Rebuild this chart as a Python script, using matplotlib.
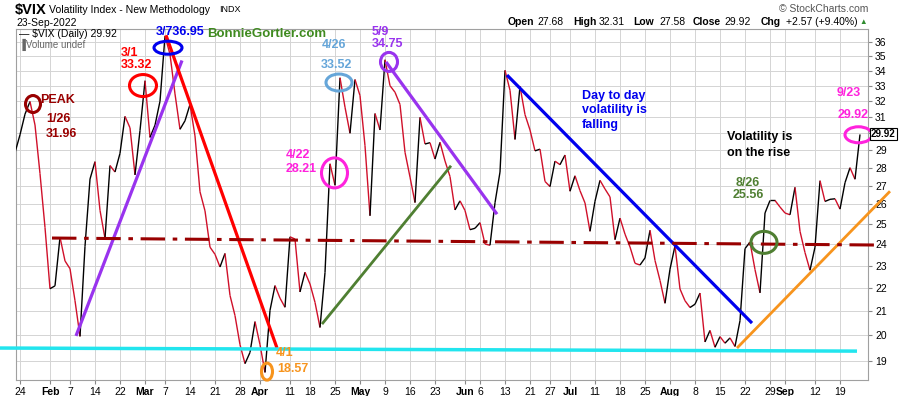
import numpy as np
import pandas as pd
import matplotlib
matplotlib.use("Agg")
import matplotlib.pyplot as plt
from matplotlib.collections import LineCollection
from matplotlib.patches import Ellipse
from matplotlib.transforms import ScaledTranslation

plt.rcParams['font.family'] = ['Liberation Sans', 'DejaVu Sans']

# daily closes, 21-Jan-2022 .. 23-Sep-2022
holidays = ['2022-02-21', '2022-04-15', '2022-05-30', '2022-06-20', '2022-07-04', '2022-09-05']
closes = [
    28.85, 29.90, 31.16, 31.96, 30.49, 27.66, 24.83,                      # Jan
    21.96, 22.09, 24.35, 23.22, 22.86, 21.44, 19.96, 23.91, 27.36, 28.33,
    25.70, 24.29, 28.11, 27.75, 28.81, 31.02, 30.32, 27.59, 30.15,        # Feb
    33.32, 29.74, 30.48, 31.98, 36.45, 35.13, 32.45, 30.23, 30.75, 31.77,
    29.83, 26.67, 25.67, 23.87, 23.53, 22.94, 23.57, 21.67, 20.81, 19.63,
    18.90, 19.33, 20.56,                                                  # Mar
    19.63, 18.57, 21.03, 22.10, 21.55, 21.16, 24.37, 24.26, 21.82, 22.70,
    22.17, 21.37, 20.32, 22.68, 28.21, 27.02, 33.52, 31.60, 29.99, 33.40,  # Apr
    32.34, 29.25, 25.42, 31.20, 30.19, 34.75, 32.99, 32.56, 31.77, 28.87,
    27.47, 26.10, 30.96, 29.35, 29.43, 28.48, 29.45, 28.37, 27.50, 25.72,
    26.19,                                                                # May
    25.69, 24.72, 24.79, 25.07, 24.02, 23.96, 26.09, 27.75, 34.02, 32.69,
    29.62, 32.95, 31.13, 30.19, 28.95, 29.05, 27.23, 26.95, 28.36, 28.16,
    28.71,                                                                # Jun
    26.70, 27.54, 26.73, 26.08, 24.64, 26.17, 27.29, 26.82, 26.40, 24.23,
    25.30, 24.50, 23.88, 23.11, 23.03, 23.36, 24.69, 23.24, 22.33, 21.33,  # Jul
    22.84, 23.93, 21.95, 21.44, 21.15, 21.29, 21.77, 19.74, 20.20, 19.53,
    19.95, 19.69, 19.90, 19.56, 20.60, 23.80, 24.11, 22.82, 21.78, 25.56,
    26.21, 26.21, 25.87,                                                  # Aug
    25.56, 25.47, 26.91, 24.64, 23.61, 22.79, 23.87, 27.27, 26.16, 26.27,
    26.30, 25.76, 27.16, 27.99, 27.35, 29.92,                             # Sep
]

tick_dates = ['2022-01-24', '2022-02-01', '2022-02-07', '2022-02-14', '2022-02-22',
              '2022-03-01', '2022-03-07', '2022-03-14', '2022-03-21', '2022-03-28',
              '2022-04-01', '2022-04-11', '2022-04-18', '2022-04-25', '2022-05-02',
              '2022-05-09', '2022-05-16', '2022-05-23', '2022-06-01', '2022-06-06',
              '2022-06-13', '2022-06-21', '2022-06-27', '2022-07-01', '2022-07-11',
              '2022-07-18', '2022-07-25', '2022-08-01', '2022-08-08', '2022-08-15',
              '2022-08-22', '2022-08-29', '2022-09-01', '2022-09-12', '2022-09-19']
tick_labels = ['24', 'Feb', '7', '14', '22', 'Mar', '7', '14', '21', '28', 'Apr', '11',
               '18', '25', 'May', '9', '16', '23', 'Jun', '6', '13', '21', '27', 'Jul',
               '11', '18', '25', 'Aug', '8', '15', '22', '29', 'Sep', '12', '19']
month_labels = ['Feb', 'Mar', 'Apr', 'May', 'Jun', 'Jul', 'Aug', 'Sep']
price_ticks = list(range(19, 37))
last_close = '29.92'

# hand drawn trend lines: (bar index, value) pairs
trend_lines = {
    'purple1': ([12.2, 33.4], [19.98, 34.7], '#9933ee', 2.3),
    'red': ([30.2, 52.4], [36.5, 19.5], '#ff0000', 2.3),
    'green': ([61.4, 87.2], [20.46, 28.1], '#4f7f32', 2.0),
    'purple2': ([74.2, 96.4], [34.6, 25.5], '#9933ee', 2.3),
    'blue': ([98.4, 147.4], [33.7, 20.5], '#0000ee', 2.3),
    'orange': ([144.4, 175.0], [19.5, 26.7], '#f7941d', 2.0),
    'cyan': ([-3.0, 168.4], [19.5, 19.38], '#22e5ee', 2.5),
}
support = ([7.4, 173.0], [24.31, 23.97])

# circles: (bar index, value, width px, height px, colour)
circles = [
    (3.6, 31.8, 15, 17, '#990000'),
    (25.6, 33.0, 27, 22, '#ff0000'),
    (30.6, 35.6, 28, 13, '#0000ee'),
    (64.8, 33.2, 26, 17, '#66a6d9'),
    (74.8, 34.6, 17, 19, '#9933ee'),
    (63.9, 27.7, 26, 30, '#ff22dd'),
    (50.4, 18.6, 11, 17, '#f7941d'),
    (149.8, 24.1, 26, 22, '#4f7f32'),
    (168.7, 29.9, 27, 16, '#ff22dd'),
]

dates = pd.bdate_range('2022-01-21', '2022-09-23')
dates = dates[~dates.isin(pd.to_datetime(holidays))]
x = np.arange(len(dates))
y = np.array(closes)

W, H = 900, 396
fig = plt.figure(figsize=(W / 100, H / 100), dpi=100)
ax = fig.add_axes([16 / W, 1 - 380 / H, (868 - 16) / W, (380 - 29) / H])
ax.set_yscale('log')
ax.set_ylim(18.29, 36.96)
ax.set_xlim(0.2, 170.6)


def px(xp, yp):
    return xp / W, 1 - yp / H


# grid
tick_pos = [dates.get_loc(pd.Timestamp(d)) for d in tick_dates]
for t in tick_pos:
    ax.axvline(t, color='#d4d4d4', lw=0.7, zorder=0)
for p in price_ticks:
    ax.axhline(p, color='#d4d4d4', lw=0.7, zorder=0)

# price line, black up / red down
pts = np.column_stack([x, y])
segs = np.stack([pts[:-1], pts[1:]], axis=1)
cols = ['black' if y[i + 1] >= y[i] else '#d0102a' for i in range(len(y) - 1)]
ax.add_collection(LineCollection(segs, colors=cols, linewidths=1.0, zorder=3))

for name, (tx, ty, c, lw) in trend_lines.items():
    ax.plot(tx, ty, color=c, lw=lw, solid_capstyle='butt', zorder=4, clip_on=False)
ax.plot(support[0], support[1], color='#990000', lw=2.2, ls=(0, (8, 2.5, 1.5, 2.5)),
        zorder=4, clip_on=False)

for cx, cy, w, h, c in circles:
    tr = fig.dpi_scale_trans + ScaledTranslation(cx, cy, ax.transData)
    ax.add_patch(Ellipse((0, 0), w / 100, h / 100, fill=False, ec=c, lw=2.2,
                         transform=tr, zorder=5, clip_on=False))

# axes styling; the last-close box covers the 30 label
ax.yaxis.tick_right()
ax.set_yticks(price_ticks)
ax.set_yticklabels(['' if p == 30 else str(p) for p in price_ticks])
ax.yaxis.set_minor_locator(matplotlib.ticker.NullLocator())
ax.set_xticks(tick_pos)
ax.set_xticklabels(tick_labels)
for lab in ax.get_xticklabels():
    if lab.get_text() in month_labels:
        lab.set_fontweight('bold')
ax.tick_params(axis='both', labelsize=7.5, length=3, color='#888888', pad=2)
for s in ax.spines.values():
    s.set_color('#a0a0a0')
    s.set_linewidth(0.8)

# header
fig.text(*px(15, 10), '$VIX', fontsize=10.5, fontweight='bold', va='center')
fig.text(*px(49, 10), 'Volatility Index - New Methodology', fontsize=7.6, va='center')
fig.text(*px(219, 10), 'INDX', fontsize=6.5, va='center')
fig.text(*px(16, 23), '23-Sep-2022', fontsize=7.5, va='center')
fig.text(*px(868, 9), '\u00a9 StockCharts.com', fontsize=7.5, color='#555555', ha='right', va='center')
quote = [(508, 'Open', True), (537, '27.68', False), (573, 'High', True), (599, '32.31', False),
         (633, 'Low', True), (659, '27.58', False), (693, 'Close', True), (724, '29.92', False),
         (761, 'Chg', True), (786, '+2.57 (+9.40%)', False)]
for qx, s, b in quote:
    fig.text(*px(qx, 22), s, fontsize=7.5, fontweight='bold' if b else 'normal', va='center')
fig.text(*px(863, 22), '\u25b2', fontsize=5.5, color='#2e8b2e', ha='center', va='center')

# legend
fig.text(*px(19, 34), '\u2014 $VIX (Daily) 29.92', fontsize=7.5, va='center')
fig.text(*px(19, 45), '\u2590Volume undef', fontsize=7, color='#666666', va='center')

# last value box
fig.text(*px(871, 134), last_close, fontsize=7, fontweight='bold', va='center',
         bbox=dict(boxstyle='square,pad=0.15', fc='white', ec='black', lw=0.8))

# annotations
notes = [
    (40, 100, 'PEAK', '#990000', 'left'),
    (46, 119, '1/26', '#990000', 'left'),
    (46, 134, '31.96', '#990000', 'left'),
    (121, 53, '3/1', '#ff0000', 'left'),
    (121, 65, '33.32', '#ff0000', 'left'),
    (156, 32, '3/736.95', '#0000ee', 'left'),
    (322, 45, '4/26', '#66a6d9', 'left'),
    (321, 65, '33.52', '#66a6d9', 'left'),
    (372, 32, '5/9', '#9933ee', 'left'),
    (372, 44, '34.75', '#9933ee', 'left'),
    (286, 155, '4/22', '#ff22dd', 'left'),
    (286, 169, '28.21', '#ff22dd', 'left'),
    (276, 353, '4/1', '#f7941d', 'left'),
    (277, 369, '18.57', '#f7941d', 'left'),
    (748, 183, '8/26', '#4f7f32', 'center'),
    (748, 195, '25.56', '#4f7f32', 'center'),
    (849, 93, '9/23', '#ff22dd', 'center'),
    (853, 115, '29.92', '#ff22dd', 'center'),
]
for nx, ny, s, c, ha in notes:
    fig.text(*px(nx, ny), s, fontsize=9, fontweight='bold', color=c, ha=ha, va='center')

fig.text(*px(207, 34), 'BonnieGortler.com', fontsize=9.5, fontweight='bold', color='#3f8a1f', va='center')
for i, s in enumerate(['Day to day', 'volatility is', 'falling']):
    fig.text(*px(582, 96 + 14.5 * i), s, fontsize=9, fontweight='bold', color='#0000ee', va='center')
for i, s in enumerate(['Volatility is', 'on the rise']):
    fig.text(*px(727, 137 + 16 * i), s, fontsize=9, fontweight='bold', color='black', va='center')

fig.savefig('out.png', dpi=100)
